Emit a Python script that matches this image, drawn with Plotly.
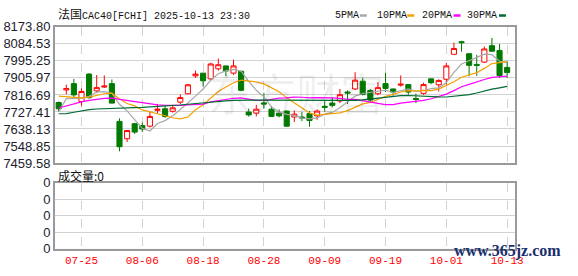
import plotly.graph_objects as go

# ---------------- data ----------------
dates = ["07-22", "07-23", "07-24", "07-25", "07-28", "07-29", "07-30", "07-31",
         "08-01", "08-04", "08-05", "08-06", "08-07", "08-08", "08-11", "08-12",
         "08-13", "08-14", "08-15", "08-18", "08-19", "08-20", "08-21", "08-22",
         "08-25", "08-26", "08-27", "08-28", "08-29",
         "09-01", "09-02", "09-03", "09-04", "09-05", "09-08", "09-09", "09-10",
         "09-11", "09-12", "09-15", "09-16", "09-17", "09-18", "09-19", "09-22",
         "09-23", "09-24", "09-25", "09-26", "09-29", "09-30",
         "10-01", "10-02", "10-03", "10-06", "10-07", "10-08", "10-09", "10-10", "10-13"]

open_ = [7777, 7843, 7876, 7782, 7926, 7838, 7858, 7876, 7678, 7587,
         7666, 7656, 7653, 7736, 7744, 7731, 7779, 7823, 7917, 7931,
         7901, 7954, 7969, 7931, 7941, 7727, 7721, 7775, 7742, 7721,
         7732, 7701, 7701, 7719, 7707, 7757, 7774, 7785, 7832, 7848,
         7889, 7840, 7823, 7876, 7848, 7868, 7871, 7798, 7825, 7901,
         7870, 7899, 8030, 8096, 8033, 7977, 7989, 8075, 8050, 7961]
high = [7782, 7871, 7901, 7851, 7931, 7921, 7919, 7898, 7694, 7633,
        7670, 7673, 7732, 7770, 7762, 7765, 7820, 7873, 7944, 7931,
        7985, 8008, 7969, 8002, 7942, 7745, 7765, 7828, 7759, 7741,
        7736, 7736, 7727, 7732, 7741, 7787, 7802, 7848, 7841, 7936,
        7906, 7848, 7884, 7934, 7851, 7919, 7871, 7823, 7881, 7901,
        7898, 7985, 8091, 8101, 8033, 8027, 8071, 8116, 8084, 7994]
low = [7729, 7820, 7795, 7759, 7798, 7828, 7853, 7772, 7521, 7570,
       7612, 7622, 7646, 7719, 7696, 7724, 7769, 7820, 7906, 7861,
       7894, 7944, 7914, 7922, 7836, 7703, 7704, 7745, 7703, 7699,
       7650, 7675, 7679, 7650, 7686, 7729, 7752, 7774, 7769, 7843,
       7815, 7774, 7815, 7832, 7812, 7860, 7818, 7774, 7818, 7873,
       7835, 7870, 8030, 8043, 7914, 7917, 7984, 8045, 7906, 7906]
close = [7744, 7850, 7817, 7835, 7802, 7855, 7863, 7774, 7545, 7630,
         7622, 7638, 7704, 7742, 7704, 7749, 7803, 7870, 7926, 7891,
         7979, 7975, 7942, 7969, 7841, 7712, 7742, 7769, 7704, 7707,
         7653, 7716, 7696, 7683, 7732, 7752, 7762, 7818, 7827, 7894,
         7820, 7790, 7855, 7851, 7832, 7873, 7832, 7793, 7871, 7881,
         7893, 7969, 8060, 8091, 7972, 7972, 8058, 8046, 7919, 7934]

ma5 = [7727, 7797, 7799, 7799, 7809.6, 7831.8, 7834.4, 7825.8, 7767.8, 7733.4,
       7686.8, 7641.8, 7627.8, 7667.2, 7682.0, 7707.4, 7740.4, 7773.6, 7810.4, 7847.8,
       7893.8, 7928.2, 7942.6, 7951.2, 7941.2, 7887.8, 7841.2, 7806.6, 7753.6, 7726.8,
       7715.0, 7709.8, 7695.2, 7691.0, 7696.0, 7715.8, 7725.0, 7749.4, 7778.2, 7810.6,
       7824.2, 7829.8, 7837.2, 7842.0, 7829.6, 7840.2, 7848.6, 7836.2, 7840.2, 7850.0,
       7854.0, 7881.4, 7934.8, 7978.8, 7997.0, 8012.8, 8030.6, 8027.8, 7993.4, 7985.8]
ma10 = [7811, 7808, 7804, 7801, 7805, 7813, 7823, 7826, 7795, 7771.5,
        7759.3, 7738.1, 7726.8, 7717.5, 7707.7, 7697.1, 7691.1, 7700.7, 7738.8, 7764.9,
        7800.6, 7834.3, 7858.1, 7880.8, 7894.5, 7890.8, 7884.7, 7874.6, 7852.4, 7834.0,
        7801.4, 7775.5, 7750.9, 7722.3, 7711.4, 7715.4, 7717.4, 7722.3, 7734.6, 7753.3,
        7770.0, 7777.4, 7793.3, 7810.1, 7820.1, 7832.2, 7839.2, 7836.7, 7841.1, 7839.8,
        7847.1, 7865.0, 7885.5, 7909.5, 7923.5, 7933.4, 7956.0, 7981.3, 7986.1, 7991.4]
ma20 = [7748, 7760, 7771, 7780, 7788, 7795, 7799, 7800, 7795, 7788,
        7782, 7776, 7770, 7765, 7762, 7761, 7762, 7765, 7768, 7768.2,
        7780.0, 7786.2, 7792.5, 7799.2, 7801.1, 7793.9, 7787.9, 7787.7, 7795.6, 7799.5,
        7801.0, 7804.9, 7804.5, 7801.6, 7803.0, 7803.1, 7801.1, 7798.5, 7793.5, 7793.7,
        7785.7, 7776.5, 7772.1, 7766.2, 7765.8, 7773.8, 7778.3, 7779.5, 7787.9, 7796.6,
        7808.6, 7821.2, 7839.4, 7859.8, 7871.8, 7882.8, 7897.6, 7909.0, 7913.6, 7915.6]
ma30 = [7718, 7719, 7726, 7734, 7740, 7743, 7745, 7747, 7748, 7749,
        7750, 7751, 7753, 7755, 7757, 7760, 7764, 7768, 7772, 7776,
        7780, 7783, 7786, 7788, 7790, 7790, 7790, 7790, 7790, 7790,
        7789, 7788, 7788, 7787, 7787, 7787, 7787, 7787, 7787, 7788,
        7791, 7795.7, 7800.8, 7804.4, 7808.7, 7812.8, 7813.8, 7811.2, 7809.4, 7809.0,
        7806.2, 7806.0, 7809.9, 7814.0, 7818.3, 7827.0, 7837.5, 7846.8, 7853.9, 7861.5]
volume = [0] * 60

price_ticks = [7459.58, 7548.85, 7638.13, 7727.41, 7816.69, 7905.97, 7995.25, 8084.53, 8173.80]
date_ticks = ["07-25", "08-06", "08-18", "08-28", "09-09", "09-19", "10-01", "10-13"]
ma_names = ["5PMA", "10PMA", "20PMA", "30PMA"]
ma_colors = ["#a8a8a8", "#f5a100", "#ff00ff", "#006b33"]

title_text = "法国CAC40[FCHI] 2025-10-13 23:30"
vol_label = "成交量:0"

# ---------------- figure ----------------
W, H = 578, 276
X0, X1 = 55.5 / W, 522.5 / W
MAIN = (1 - 165 / H, 1 - 21 / H)
VOL = (1 - 255.5 / H, 1 - 186 / H)

fig = go.Figure()
fig.add_trace(go.Candlestick(
    x=dates, open=open_, high=high, low=low, close=close,
    increasing=dict(line=dict(color="#ff0000", width=1), fillcolor="#ffffff"),
    decreasing=dict(line=dict(color="#007a00", width=1), fillcolor="#007a00"),
    whiskerwidth=0, hoverinfo="skip", showlegend=False,
    xaxis="x", yaxis="y"))

for vals, col in zip([ma5, ma10, ma20, ma30], ma_colors):
    fig.add_trace(go.Scatter(x=dates, y=vals, mode="lines",
                             line=dict(color=col, width=1.2),
                             hoverinfo="skip", showlegend=False,
                             xaxis="x", yaxis="y"))

fig.add_trace(go.Bar(x=dates, y=volume, marker_color="#007a00",
                     showlegend=False, xaxis="x2", yaxis="y2"))

grid = "#d2d2d2"
border = "#9a9a9a"
tick_font = dict(family="Liberation Sans, Arial", size=13, color="#1c1c2c")
date_font = dict(family="Liberation Mono, DejaVu Sans Mono", size=11, color="#ff0000")

xcommon = dict(type="category", range=[-0.52, 60.07], tickvals=date_ticks,
               showgrid=True, gridcolor=grid, griddash="dash", gridwidth=1,
               showline=True, mirror=True, linecolor=border, linewidth=1.5,
               ticks="", zeroline=False, fixedrange=True)

fig.update_layout(
    width=W, height=H, margin=dict(l=0, r=0, t=0, b=0),
    paper_bgcolor="white", plot_bgcolor="white",
    boxgap=0.33, boxgroupgap=0,
    xaxis=dict(domain=[X0, X1], showticklabels=False, anchor="y",
               rangeslider=dict(visible=False), **xcommon),
    xaxis2=dict(domain=[X0, X1], anchor="y2", showticklabels=True,
                ticktext=date_ticks, tickfont=date_font, **xcommon),
    yaxis=dict(domain=list(MAIN), range=[price_ticks[0], price_ticks[-1]],
               tickvals=price_ticks, ticktext=[f"{v:.2f}" for v in price_ticks],
               tickfont=tick_font, showgrid=True, gridcolor=grid, gridwidth=1,
               showline=True, mirror=True, linecolor=border, linewidth=1.5,
               ticks="", zeroline=False, anchor="x", fixedrange=True),
    yaxis2=dict(domain=list(VOL), range=[0, 4], tickvals=[0, 1, 2, 3, 4],
                ticktext=["0"] * 5, tickfont=tick_font,
                showgrid=True, gridcolor=grid, gridwidth=1,
                showline=True, mirror=True, linecolor=border, linewidth=1.5,
                ticks="", zeroline=False, anchor="x2", fixedrange=True),
)

ann = []
ann.append(dict(x=57 / W, y=1 - 9 / H, xref="paper", yref="paper",
                xanchor="left", yanchor="middle", showarrow=False,
                text="<span style='font-size:12px'>法国</span>CAC40[FCHI] 2025-10-13 23:30",
                font=dict(family="Liberation Mono, Noto Sans CJK SC", size=10, color="#111111")))

leg_text_x = [338, 380, 426, 472]
leg_sw_x = [365, 413, 460, 506]
for name, col, tx, sx in zip(ma_names, ma_colors, leg_text_x, leg_sw_x):
    ann.append(dict(x=tx / W, y=1 - 9 / H, xref="paper", yref="paper",
                    xanchor="left", yanchor="middle", showarrow=False, text=name,
                    font=dict(family="Liberation Mono, DejaVu Sans Mono", size=10, color="#111111")))
    fig.add_shape(type="line", xref="paper", yref="paper",
                  x0=sx / W, x1=(sx + 7) / W, y0=1 - 9 / H, y1=1 - 9 / H,
                  line=dict(color=col, width=2.5))

ann.append(dict(x=57 / W, y=1 - 178 / H, xref="paper", yref="paper",
                xanchor="left", yanchor="middle", showarrow=False, text=vol_label,
                font=dict(family="Noto Sans CJK SC", size=12, color="#111111")))

ann.append(dict(x=300 / W, y=1 - 90 / H, xref="paper", yref="paper",
                xanchor="center", yanchor="middle", showarrow=False, text="东方财富",
                font=dict(family="Noto Sans CJK SC", size=44, color="rgba(0,0,0,0.07)")))

ann.append(dict(x=571 / W, y=1 - 258 / H, xref="paper", yref="paper",
                xanchor="right", yanchor="middle", showarrow=False, text="<b>www.365jz.com</b>",
                font=dict(family="Liberation Serif, DejaVu Serif", size=16, color="#1b2f6e")))

fig.update_layout(annotations=ann)
fig.write_html("out.html")
